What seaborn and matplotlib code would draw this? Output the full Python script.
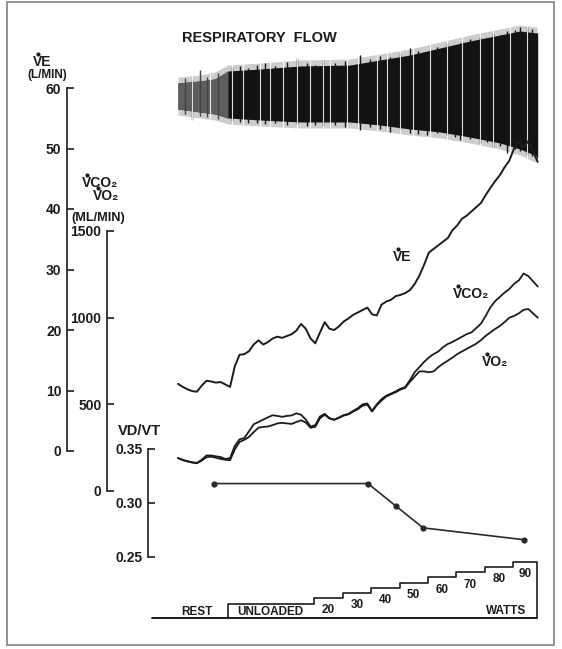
import numpy as np
import matplotlib
matplotlib.use('Agg')
import matplotlib.pyplot as plt
from matplotlib.patches import Rectangle
from matplotlib.lines import Line2D
import seaborn as sns

# ---- data ----
# gas exchange, 10 s averages, time in minutes from start of recording
sample_s = np.arange(77) * 10
ve = [11.1, 10.6, 10.2, 9.9, 9.8, 10.8, 11.6, 11.5, 11.3, 11.4,
      11.0, 10.6, 14.0, 15.9, 16.0, 16.5, 17.6, 18.3, 17.6, 18.0,
      18.6, 18.9, 18.7, 19.0, 19.3, 19.9, 21.0, 20.2, 18.6, 17.8,
      19.6, 21.3, 20.2, 20.0, 20.6, 21.4, 21.9, 22.5, 22.9, 23.3,
      23.7, 22.6, 22.4, 24.2, 24.7, 25.0, 25.6, 25.8, 26.1, 26.6,
      27.6, 29.0, 30.8, 32.8, 33.4, 34.0, 34.6, 35.2, 36.5, 37.3,
      38.4, 38.9, 39.6, 40.3, 41.0, 42.3, 43.5, 44.6, 45.6, 46.9,
      48.0, 50.0, 51.0, 50.2, 51.2, 49.5, 47.8]
vco2 = [190, 180, 172, 166, 162, 180, 205, 205, 200, 196,
        185, 190, 260, 298, 305, 345, 385, 398, 412, 425,
        437, 433, 428, 433, 436, 448, 440, 412, 372, 380,
        430, 445, 420, 412, 424, 438, 445, 462, 478, 500,
        505, 462, 500, 530, 550, 562, 575, 590, 600, 640,
        685, 715, 745, 770, 790, 805, 830, 848, 860, 875,
        890, 905, 915, 940, 965, 1010, 1060, 1095, 1120, 1145,
        1165, 1195, 1215, 1255, 1240, 1210, 1180]
vo2 = [190, 178, 170, 164, 160, 175, 195, 198, 192, 185,
       180, 178, 240, 283, 295, 312, 340, 365, 370, 372,
       380, 390, 393, 390, 387, 398, 408, 395, 365, 370,
       420, 440, 418, 410, 422, 435, 442, 458, 472, 492,
       498, 458, 495, 522, 545, 558, 570, 585, 595, 630,
       660, 690, 690, 685, 690, 715, 735, 752, 770, 790,
       805, 820, 835, 850, 870, 895, 915, 935, 952, 975,
       1000, 1010, 1025, 1045, 1050, 1025, 1000]

# dead space / tidal volume
vdvt_t = [1.27, 6.69, 7.68, 8.63, 12.18]
vdvt = [0.318, 0.318, 0.297, 0.277, 0.266]

# respiratory flow (L/s): outer envelope and dense core
flow_t = [0, 0.77, 1.3, 1.76, 2.89, 4.3, 6.06, 7.11, 8.17, 9.23, 10.28, 11.34, 12.04, 12.64]
flow_tip_hi = [1.0, 1.1, 1.25, 1.6, 1.7, 1.85, 1.9, 2.15, 2.4, 2.75, 3.1, 3.4, 3.6, 3.5]
flow_tip_lo = [-0.9, -1.05, -1.15, -1.35, -1.45, -1.55, -1.55, -1.7, -1.9, -2.05, -2.3, -2.6, -2.9, -3.3]
flow_core_hi = [0.7, 0.8, 0.9, 1.3, 1.4, 1.55, 1.6, 1.85, 2.1, 2.45, 2.8, 3.1, 3.3, 3.2]
flow_core_lo = [-0.6, -0.75, -0.85, -1.05, -1.15, -1.25, -1.25, -1.4, -1.6, -1.75, -2.0, -2.3, -2.6, -2.95]
# single large breaths sticking out of the core
spike_t = [0.25, 0.49, 0.77, 1.02, 1.41, 1.9, 2.18, 2.46, 2.78, 3.06, 3.42, 3.84, 4.19, 4.54,
           4.82, 5.11, 5.53, 5.88, 6.41, 6.76, 7.11, 7.46, 7.82, 8.17, 8.45, 8.77, 9.12, 9.47,
           9.75, 9.93, 10.28, 10.63, 10.88, 11.09, 11.34, 11.58, 11.87, 12.04, 12.29, 12.46, 12.64]
spike_hi = [0.95, 0.9, 1.35, 1.0, 1.2, 1.5, 1.55, 1.45, 1.6, 1.7, 1.55, 1.75, 1.95, 1.7,
            1.6, 1.85, 1.7, 1.8, 2.1, 1.9, 2.05, 2.0, 2.2, 2.45, 2.3, 2.25, 2.5, 2.7,
            2.6, 2.7, 2.9, 3.0, 2.95, 3.2, 3.1, 3.3, 3.35, 3.5, 3.5, 3.4, 3.2]
spike_lo = [-0.85, -1.15, -0.95, -1.0, -1.1, -1.2, -1.25, -1.3, -1.3, -1.35, -1.3, -1.4, -1.35, -1.45,
            -1.4, -1.45, -1.4, -1.5, -1.65, -1.5, -1.6, -1.75, -1.6, -1.8, -1.85, -1.9, -1.8, -1.9,
            -2.0, -2.15, -2.1, -2.3, -2.25, -2.5, -2.45, -2.8, -2.6, -2.7, -2.9, -2.95, -3.05]
# light gaps between breaths
flow_gaps = [0.49, 1.13, 1.9, 2.29, 2.89, 3.24, 3.7, 4.19, 4.65, 5.11, 5.35, 5.95, 6.34,
             7.01, 7.36, 7.82, 8.27, 8.87, 9.47, 10.0, 10.63, 11.09, 11.69, 12.29]

# work protocol
rest_start = -0.9
stage_start = [1.75, 4.8, 5.8, 6.8, 7.8, 8.8, 9.8, 10.8, 11.8]
stage_watts = [8, 20, 30, 40, 50, 60, 70, 80, 90]   # unloaded drawn just under 20 W
stage_names = ['UNLOADED', '20', '30', '40', '50', '60', '70', '80', '90']
test_end = 12.65

ve_ticks = [0, 10, 20, 30, 40, 50, 60]
gas_ticks = [0, 500, 1000, 1500]
vdvt_ticks = [0.25, 0.30, 0.35]

# ---- figure ----
sns.set_style('white')
plt.rcParams['font.family'] = ['Liberation Sans', 'DejaVu Sans']
plt.rcParams['font.weight'] = 'bold'

W, H = 562, 649
fig = plt.figure(figsize=(W / 100, H / 100), dpi=100)
ink = '#1c1c1c'

X0, PPM = 178, 28.4   # pixel of t=0 and pixels per minute


def panel(left, top, bottom, right=548):
    ax = fig.add_axes([left / W, 1 - bottom / H, (right - left) / W, (bottom - top) / H])
    ax.set_xlim((left - X0) / PPM, (right - X0) / PPM)
    ax.patch.set_alpha(0)
    for s in ax.spines.values():
        s.set_visible(False)
    ax.set_xticks([])
    ax.set_yticks([])
    return ax


def scale(ax, lo, hi, ticks, labels):
    ax.set_ylim(lo, hi)
    ax.spines['left'].set_visible(True)
    ax.spines['left'].set_bounds(lo, hi)
    ax.spines['left'].set_linewidth(1.2)
    ax.spines['left'].set_color(ink)
    ax.set_yticks(ticks)
    ax.set_yticklabels(labels)
    ax.tick_params(axis='y', direction='in', length=5, width=1.2, pad=4,
                   labelsize=10, colors=ink, left=True)
    ax.set_xlabel('')
    ax.set_ylabel('')


# respiratory flow
ax_f = panel(150, 15, 180)
ax_f.set_ylim((97 - 180) / 20, (97 - 15) / 20)
ax_f.fill_between(flow_t, flow_tip_lo, flow_tip_hi, color='#9c9c9c', alpha=0.5, lw=0)
ax_f.fill_between(flow_t, flow_core_lo, flow_core_hi, color='#121212', lw=0)
ax_f.fill_between(flow_t[:4], flow_core_lo[:4], flow_core_hi[:4], color='#5e5e5e', lw=0)
spike_col = ['#444444' if t < 1.76 else '#151515' for t in spike_t]
ax_f.vlines(spike_t, spike_lo, spike_hi, colors=spike_col, lw=1.0)
ax_f.vlines(flow_gaps, -4, 4, color='white', lw=0.8, alpha=0.85)

# ventilation
ax_ve = panel(67, 88, 451)
t_min = sample_s / 60
sns.lineplot(x=t_min, y=ve, ax=ax_ve, color=ink, lw=1.4, estimator=None)
scale(ax_ve, 0, 60, ve_ticks, [str(v) for v in ve_ticks])

# VCO2 / VO2
ax_g = panel(107, 231, 491)
sns.lineplot(x=t_min, y=vco2, ax=ax_g, color=ink, lw=1.3, estimator=None)
sns.lineplot(x=t_min, y=vo2, ax=ax_g, color=ink, lw=1.3, estimator=None)
scale(ax_g, 0, 1500, gas_ticks, [str(v) for v in gas_ticks])

# VD/VT
ax_d = panel(148, 449, 557)
sns.lineplot(x=vdvt_t, y=vdvt, ax=ax_d, color='#2a2a2a', lw=1.2, marker='o',
             markersize=4.5, markeredgewidth=0, estimator=None)
scale(ax_d, 0.25, 0.35, vdvt_ticks, ['%.2f' % v for v in vdvt_ticks])

# work staircase
base = -18.9
ax_w = panel(150, 540, 618)
ax_w.set_ylim(base, (618 - 540) / 0.514 + base)
sx, sy = [stage_start[0]], [base]
for i, (s, w) in enumerate(zip(stage_start, stage_watts)):
    end = stage_start[i + 1] if i + 1 < len(stage_start) else test_end
    sx += [s, end]
    sy += [w, w]
sx.append(test_end)
sy.append(base)
ax_w.plot(sx, sy, color=ink, lw=1.2, clip_on=False)
ax_w.plot([rest_start, test_end], [base, base], color=ink, lw=1.4, clip_on=False)
for i, (s, w, name) in enumerate(zip(stage_start, stage_watts, stage_names)):
    if i == 0:
        continue
    end = stage_start[i + 1] if i + 1 < len(stage_start) else test_end
    ax_w.annotate(name, ((s + end) / 2, w), xytext=(0, -4.5), textcoords='offset points',
                  ha='center', va='top', fontsize=8.5, color=ink)


def ftext(x, y, s, **kw):
    kw.setdefault('color', ink)
    kw.setdefault('va', 'center')
    fig.text(x / W, 1 - y / H, s, **kw)


def vdot_label(x, y, s, size):
    # text starting with V, dot placed over the V ("V dot" = rate)
    ftext(x, y, s, ha='left', fontsize=size)
    em = size * 100 / 72
    fig.add_artist(Line2D([(x + 0.35 * em) / W], [1 - (y - 0.56 * em) / H], marker='o',
                          ms=size * 0.2, color=ink, lw=0, transform=fig.transFigure))


ftext(197, 612, 'REST', ha='center', fontsize=8.5)
ftext(270, 612, 'UNLOADED', ha='center', fontsize=8.5)
ftext(506, 611, 'WATTS', ha='center', fontsize=8.5)

ftext(182, 38, 'RESPIRATORY  FLOW', ha='left', fontsize=10.5)

vdot_label(33, 62, 'VE', 10)
ftext(47, 75, '(L/MIN)', ha='center', fontsize=8.5)
vdot_label(82, 183, 'VCO\u2082', 10)
vdot_label(93, 196, 'VO\u2082', 10)
ftext(98, 218, '(ML/MIN)', ha='center', fontsize=9.2)
ftext(139, 431, 'VD/VT', ha='center', fontsize=10.5)

vdot_label(393, 257, 'VE', 10)
vdot_label(453, 294, 'VCO\u2082', 10)
vdot_label(482, 362, 'VO\u2082', 10)

fig.patches.append(Rectangle((7 / W, 1 - 645 / H), 547 / W, 643 / H, transform=fig.transFigure,
                             fill=False, ec='#8a8a8a', lw=1.3))

fig.savefig('out.png', dpi=100)
